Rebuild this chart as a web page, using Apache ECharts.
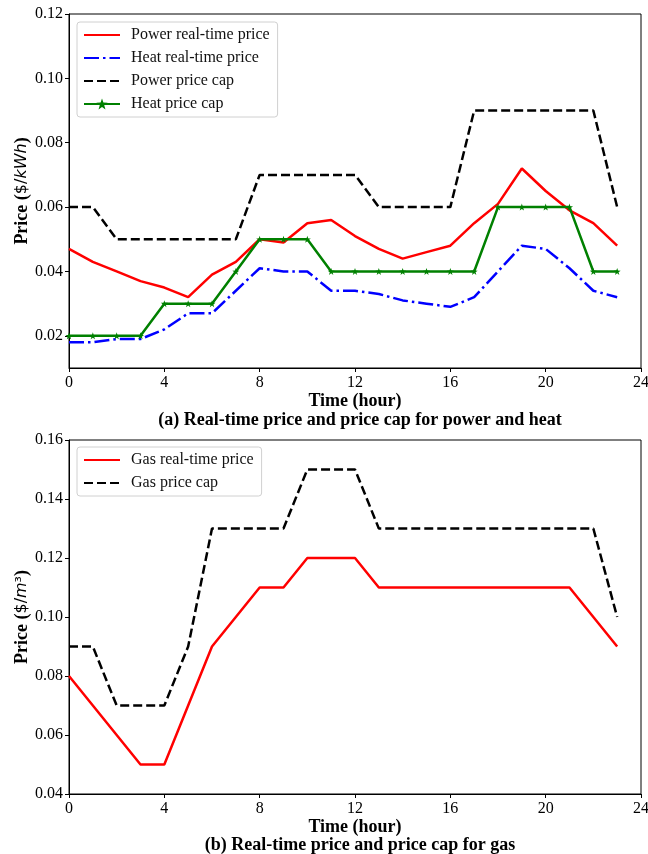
<!DOCTYPE html>
<html>
<head>
<meta charset="utf-8">
<script src="https://cdn.jsdelivr.net/npm/echarts@6/dist/echarts.min.js"></script>
<style>
  html, body { margin: 0; padding: 0; background: #fff; }
  #chart { width: 648px; height: 854px; }
</style>
</head>
<body>
<div id="chart"></div>
<script>
// soatlar (0..23)
var hours = [0, 1, 2, 3, 4, 5, 6, 7, 8, 9, 10, 11, 12, 13, 14, 15, 16, 17, 18, 19, 20, 21, 22, 23];

// (a) elektr va issiqlik narxlari
var powerPrice = [0.047, 0.043, 0.040, 0.037, 0.035, 0.032, 0.039, 0.043, 0.050, 0.049, 0.055, 0.056,
  0.051, 0.047, 0.044, 0.046, 0.048, 0.055, 0.061, 0.072, 0.065, 0.059, 0.055, 0.048];
var heatPrice = [0.018, 0.018, 0.019, 0.019, 0.022, 0.027, 0.027, 0.034, 0.041, 0.040, 0.040, 0.034,
  0.034, 0.033, 0.031, 0.030, 0.029, 0.032, 0.040, 0.048, 0.047, 0.041, 0.034, 0.032];
var powerCap = [0.06, 0.06, 0.05, 0.05, 0.05, 0.05, 0.05, 0.05, 0.07, 0.07, 0.07, 0.07,
  0.07, 0.06, 0.06, 0.06, 0.06, 0.09, 0.09, 0.09, 0.09, 0.09, 0.09, 0.06];
var heatCap = [0.02, 0.02, 0.02, 0.02, 0.03, 0.03, 0.03, 0.04, 0.05, 0.05, 0.05, 0.04,
  0.04, 0.04, 0.04, 0.04, 0.04, 0.04, 0.06, 0.06, 0.06, 0.06, 0.04, 0.04];

// (b) gaz narxlari
var gasPrice = [0.08, 0.07, 0.06, 0.05, 0.05, 0.07, 0.09, 0.10, 0.11, 0.11, 0.12, 0.12,
  0.12, 0.11, 0.11, 0.11, 0.11, 0.11, 0.11, 0.11, 0.11, 0.11, 0.10, 0.09];
var gasCap = [0.09, 0.09, 0.07, 0.07, 0.07, 0.09, 0.13, 0.13, 0.13, 0.13, 0.15, 0.15,
  0.15, 0.13, 0.13, 0.13, 0.13, 0.13, 0.13, 0.13, 0.13, 0.13, 0.13, 0.10];

var yTicksTop = [0.02, 0.04, 0.06, 0.08, 0.10, 0.12];
var yTicksBottom = [0.04, 0.06, 0.08, 0.10, 0.12, 0.14, 0.16];

var serif = "Liberation Serif";
var star = "path://M0,-10L2.35,-3.24L9.51,-3.09L3.8,1.24L5.88,8.09L0,4L-5.88,8.09L-3.8,1.24L-9.51,-3.09L-2.35,-3.24Z";

function pairs(values) {
  return hours.map(function (h, i) {
    return [h, values[i]];
  });
}

function xAxisCfg(gridIndex) {
  return {
    type: "value",
    gridIndex: gridIndex,
    min: 0,
    max: 24,
    interval: 4,
    name: "Time (hour)",
    nameLocation: "middle",
    nameGap: 24,
    nameTextStyle: { fontFamily: serif, fontWeight: "bold", fontSize: 18, color: "#000" },
    axisLine: { lineStyle: { color: "#000", width: 1 } },
    axisTick: { inside: false, length: 4, lineStyle: { color: "#000" } },
    axisLabel: { fontFamily: serif, fontSize: 16, color: "#000", margin: 7 },
    splitLine: { show: false },
  };
}

function yAxisCfg(gridIndex, min, max, ticks, nameRich) {
  return {
    type: "value",
    gridIndex: gridIndex,
    min: min,
    max: max,
    name: nameRich,
    nameLocation: "middle",
    nameRotate: 90,
    nameGap: 38,
    nameMoveOverlap: false,
    nameTextStyle: {
      color: "#000",
      rich: {
        b: { fontFamily: serif, fontWeight: "bold", fontSize: 18, color: "#000" },
        s: { fontFamily: "DejaVu Sans", fontSize: 16, color: "#000" },
        i: { fontFamily: "DejaVu Sans", fontStyle: "italic", fontSize: 16, color: "#000" },
      },
    },
    axisLine: { show: true, lineStyle: { color: "#000", width: 1 } },
    axisTick: { show: true, inside: false, length: 4, customValues: ticks, lineStyle: { color: "#000" } },
    axisLabel: {
      fontFamily: serif,
      fontSize: 16,
      color: "#000",
      margin: 6,
      customValues: ticks,
      formatter: function (v) {
        return v.toFixed(2);
      },
    },
    splitLine: { show: false },
  };
}

// legend: marker bo'lmagan seriyalarda doirachani yashiramiz
function legendItem(name, hasMarker) {
  return hasMarker ? { name: name } : { name: name, itemStyle: { opacity: 0 } };
}

function legendCfg(top, items) {
  return {
    data: items,
    orient: "vertical",
    left: 77,
    top: top,
    itemWidth: 36,
    itemHeight: 14,
    itemGap: 7,
    padding: [5, 8, 5, 6],
    borderColor: "#d0d0d0",
    borderWidth: 1,
    borderRadius: 3,
    backgroundColor: "rgba(255,255,255,0.8)",
    textStyle: { fontFamily: serif, fontSize: 16, color: "#111", padding: [0, 0, 0, 6] },
  };
}

var chart = echarts.init(document.getElementById("chart"), null, { renderer: "canvas" });

var option = {
  backgroundColor: "#fff",
  animation: false,
  title: [
    {
      text: "(a) Real-time price and price cap for power and heat",
      left: 355,
      top: 406,
      textAlign: "center",
      textStyle: { fontFamily: serif, fontWeight: "bold", fontSize: 18, color: "#000" },
    },
    {
      text: "(b) Real-time price and price cap for gas",
      left: 355,
      top: 831,
      textAlign: "center",
      textStyle: { fontFamily: serif, fontWeight: "bold", fontSize: 18, color: "#000" },
    },
  ],
  legend: [
    legendCfg(22, [
      legendItem("Power real-time price", false),
      legendItem("Heat real-time price", false),
      legendItem("Power price cap", false),
      legendItem("Heat price cap", true),
    ]),
    legendCfg(447, [legendItem("Gas real-time price", false), legendItem("Gas price cap", false)]),
  ],
  grid: [
    { left: 69, right: 7, top: 14, height: 354, outerBoundsMode: "none", containLabel: false,
      show: true, borderColor: "#000", borderWidth: 1, backgroundColor: "transparent" },
    { left: 69, right: 7, top: 440, height: 354, outerBoundsMode: "none", containLabel: false,
      show: true, borderColor: "#000", borderWidth: 1, backgroundColor: "transparent" },
  ],
  xAxis: [xAxisCfg(0), xAxisCfg(1)],
  yAxis: [
    yAxisCfg(0, 0.01, 0.12, yTicksTop, "{b|Price (}{s|$/}{i|kWh}{b|)}"),
    yAxisCfg(1, 0.04, 0.16, yTicksBottom, "{b|Price (}{s|$/}{i|m}{s|³}{b|)}"),
  ],
  series: [
    {
      name: "Power real-time price",
      type: "line",
      xAxisIndex: 0,
      yAxisIndex: 0,
      data: pairs(powerPrice),
      symbol: "none",
      lineStyle: { color: "#ff0000", width: 2.5 },
      itemStyle: { color: "#ff0000" },
    },
    {
      name: "Heat real-time price",
      type: "line",
      xAxisIndex: 0,
      yAxisIndex: 0,
      data: pairs(heatPrice),
      symbol: "none",
      lineStyle: { color: "#0000ff", width: 2.5, type: [15, 4, 2.5, 4] },
      itemStyle: { color: "#0000ff" },
    },
    {
      name: "Power price cap",
      type: "line",
      xAxisIndex: 0,
      yAxisIndex: 0,
      data: pairs(powerCap),
      symbol: "none",
      lineStyle: { color: "#000", width: 2.5, type: [9, 4] },
      itemStyle: { color: "#000" },
    },
    {
      name: "Heat price cap",
      type: "line",
      xAxisIndex: 0,
      yAxisIndex: 0,
      data: pairs(heatCap),
      symbol: star,
      symbolSize: 7,
      lineStyle: { color: "#008000", width: 2.5 },
      itemStyle: { color: "#008000" },
    },
    {
      name: "Gas real-time price",
      type: "line",
      xAxisIndex: 1,
      yAxisIndex: 1,
      data: pairs(gasPrice),
      symbol: "none",
      lineStyle: { color: "#ff0000", width: 2.5 },
      itemStyle: { color: "#ff0000" },
    },
    {
      name: "Gas price cap",
      type: "line",
      xAxisIndex: 1,
      yAxisIndex: 1,
      data: pairs(gasCap),
      symbol: "none",
      lineStyle: { color: "#000", width: 2.5, type: [9, 4] },
      itemStyle: { color: "#000" },
    },
  ],
};

chart.setOption(option);
</script>
</body>
</html>
